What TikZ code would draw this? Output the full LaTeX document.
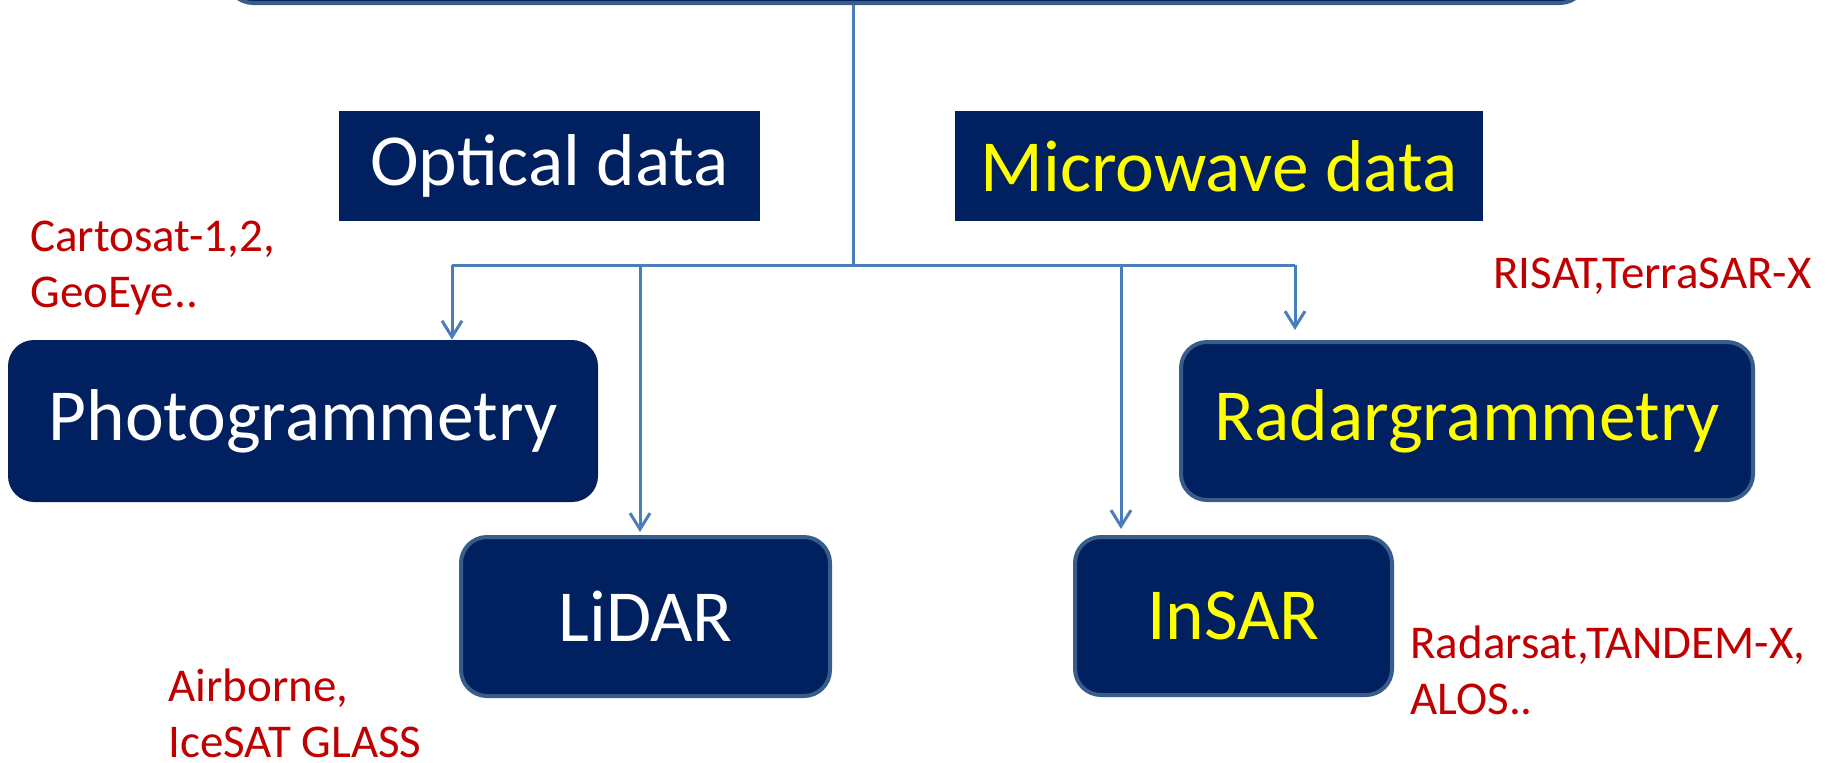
\documentclass[tikz,border=0pt]{standalone}
\usepackage{fontspec}
\setmainfont{Carlito}
\usetikzlibrary{arrows.meta}
\definecolor{navy}{HTML}{002060}
\definecolor{edgeblue}{HTML}{385D8A}
\definecolor{linkblue}{HTML}{4A7EBB}
\definecolor{notered}{HTML}{C00000}
\definecolor{yel}{HTML}{FFFF00}
\begin{document}
\begin{tikzpicture}[x=0.5pt,y=-0.5pt,
  rbox/.style={fill=navy, draw=none, rounded corners=13pt, inner sep=0pt, text=white,
    font=\fontsize{36.7}{44}\selectfont},
  edged/.style={draw=edgeblue, line width=2pt},
  sbox/.style={fill=navy, draw=none, inner sep=0pt, text=white,
    font=\fontsize{36.7}{44}\selectfont},
  topbar/.style={fill=navy, draw=edgeblue, line width=2pt, rounded corners=13pt, inner sep=0pt},
  link/.style={draw=linkblue, line width=1.5pt},
  arr/.style={link, -{Straight Barb[length=8pt,width=10pt,line width=1.5pt]}},
  note/.style={text=notered, inner sep=0pt, align=left, font=\fontsize{23.5}{28}\selectfont}]
\useasboundingbox (0,0) rectangle (1841,762);
\clip (0,0) rectangle (1841,762);
% top bar (cut off by the picture's top edge)
\node[topbar, minimum width=679.5pt, minimum height=60pt, anchor=south] (top) at (906.5,5) {};
% category boxes
\node[sbox, minimum width=210.5pt, minimum height=55pt] (optical) at (549.5,166) {Optical data\hspace{9pt}};
\node[sbox, text=yel, minimum width=264pt, minimum height=55pt] (micro) at (1219,166) {Microwave data};
% method boxes
\node[rbox, minimum width=295pt, minimum height=81pt] (photo) at (303,421) {Photogrammetry};
\node[rbox, edged, minimum width=184.5pt, minimum height=79.5pt] (lidar) at (645.5,616.5) {LiDAR};
\node[rbox, edged, text=yel, minimum width=286pt, minimum height=79pt] (radar) at (1467,421) {Radargrammetry};
\node[rbox, edged, text=yel, minimum width=158.5pt, minimum height=79pt] (insar) at (1233.5,616) {InSAR};
% connectors
\coordinate (trunk) at (853,265);
\coordinate (b1) at (452,265);
\coordinate (b2) at (640,265);
\coordinate (b3) at (1121,265);
\coordinate (b4) at (1295,265);
\draw[link] (top.south -| trunk) -- (trunk);
\draw[link] (b1) -- (b4);
\draw[arr] (b1) -- (b1 |- photo.north);
\draw[arr, shorten >=1.5pt] (b2) -- (b2 |- lidar.north);
\draw[arr, shorten >=3pt] (b3) -- (b3 |- insar.north);
\draw[arr, shorten >=5pt] (b4) -- (b4 |- radar.north);
% notes
\node[note, anchor=north west] (n1) at (30,221) {Cartosat-1,2,\\GeoEye..};
\node[note, anchor=base west] (n2) at (1493,288) {RISAT,TerraSAR-X};
\node[note, anchor=north west] (n3) at (168,668) {Airborne,\\IceSAT GLASS};
\node[note, anchor=north west] (n4) at (1410,625) {Radarsat,TANDEM-X,\\ALOS..};
\end{tikzpicture}
\end{document}
